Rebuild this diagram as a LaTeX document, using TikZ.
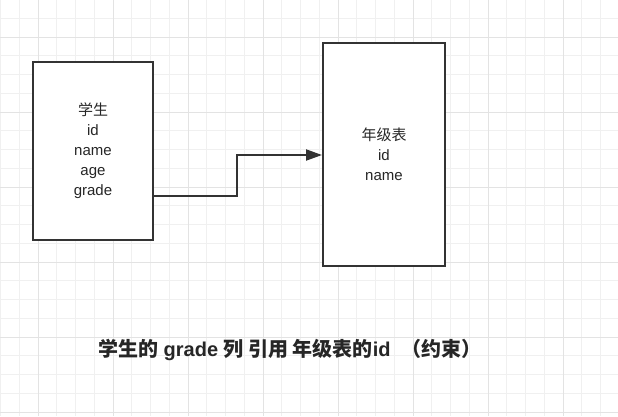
\documentclass[tikz,border=0pt]{standalone}
\usepackage{fontspec}
\setmainfont{Liberation Sans}
\newfontfamily\cjk{Noto Sans CJK SC}
\usetikzlibrary{arrows.meta}
\begin{document}
\begin{tikzpicture}[x=1pt,y=-1pt,
  tbl/.style={draw=black!80,line width=2pt,fill=white,align=center,inner sep=0pt,
    font=\fontsize{15}{20}\selectfont,text=black!85},
  link/.style={draw=black!80,line width=2pt,-{Triangle[length=16pt,width=11pt]}},
  caption/.style={font=\fontsize{20}{22}\selectfont\bfseries,text=black!85}]
\useasboundingbox (0,0) rectangle (618,416);
\fill[white] (0,0) rectangle (618,416);
\foreach \i in {0,...,33} {
  \draw[black!6,line width=0.8pt] ({38+18.75*(\i-2)},0) -- ({38+18.75*(\i-2)},416);
}
\foreach \i in {0,...,23} {
  \draw[black!6,line width=0.8pt] (0,{37+18.75*(\i-2)}) -- (618,{37+18.75*(\i-2)});
}
\foreach \x in {38,113,188,263,338,413,488,563}
  \draw[black!11,line width=0.9pt] (\x,0) -- (\x,416);
\foreach \y in {37,112,187,262,337,412}
  \draw[black!11,line width=0.9pt] (0,\y) -- (618,\y);
\node[tbl,minimum width=120pt,minimum height=178pt] (stu) at (93,151) {{\cjk 学生}\\id\\name\\age\\grade};
\node[tbl,minimum width=122pt,minimum height=223pt] (grd) at (384,154.5) {{\cjk 年级表}\\id\\name};
\coordinate (bend) at (237,196);
\draw[link] (stu.east |- bend) -- (bend) -- (237,155) -- (grd.west |- 0,155);
\node[caption] (cap) at (290,350) {{\cjk 学生的} grade {\cjk 列 引用 年级表的}id\ \ {\cjk （约束）}};
\end{tikzpicture}
\end{document}
